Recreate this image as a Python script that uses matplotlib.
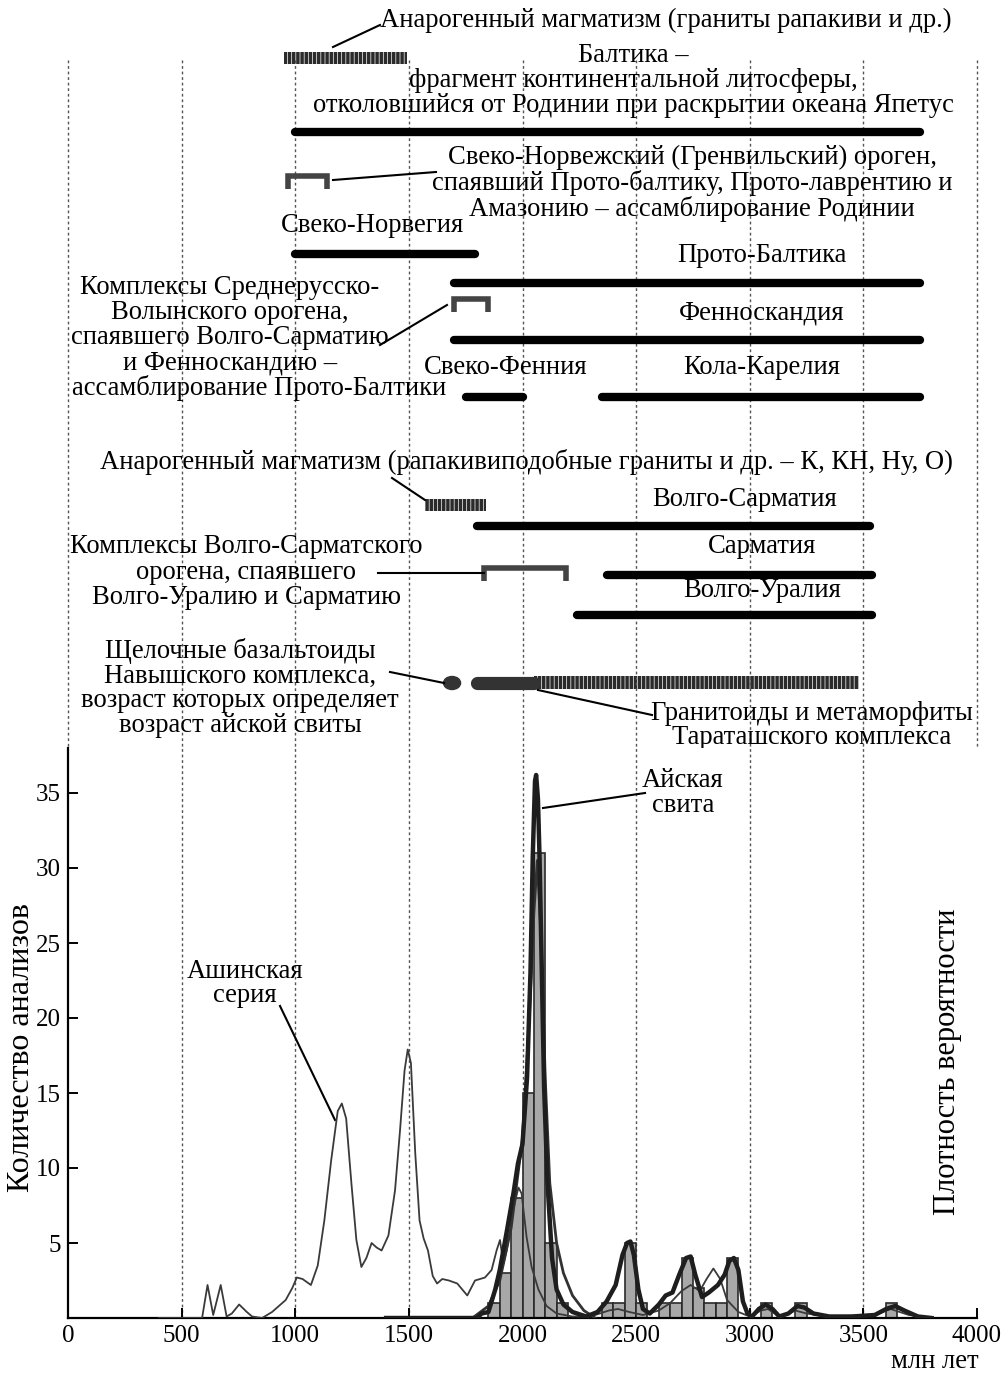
import matplotlib
matplotlib.use("Agg")
import matplotlib.pyplot as plt
from matplotlib.patches import Ellipse

plt.rcParams['font.family'] = ['Liberation Serif', 'DejaVu Serif']
plt.rcParams['hatch.color'] = '#2b2b2b'
plt.rcParams['hatch.linewidth'] = 2.5

# --- histogram of detrital zircon ages (Aiskaya svita), 50 Ma bins ---
BIN = 50
bin_left = [1850, 1900, 1950, 2000, 2050, 2100, 2150, 2350, 2400, 2450, 2500,
            2600, 2650, 2700, 2750, 2800, 2850, 2900, 3050, 3200, 3600]
bin_count = [1, 3, 8, 15, 31, 5, 1, 1, 1, 5, 1,
             1, 1, 4, 2, 1, 1, 4, 1, 1, 1]

# probability density curve, Ashinskaya series (thin line)
ash_age = [400, 590, 614, 639, 672, 698, 721, 753, 787, 810, 854, 898, 958, 987,
           1007, 1032, 1069, 1099, 1128, 1158, 1187, 1205, 1224, 1247, 1269, 1291,
           1313, 1336, 1358, 1380, 1410, 1439, 1461, 1481, 1495, 1509, 1528, 1547,
           1565, 1584, 1605, 1624, 1647, 1676, 1713, 1757, 1791, 1835, 1864, 1886,
           1901, 1916, 1930, 1959, 1982, 1996, 2018, 2040, 2070, 2106, 2150, 2220,
           2300, 2380, 2420, 2470, 2530, 2600, 2650, 2700, 2740, 2780, 2810, 2840,
           2870, 2900, 2950, 3000, 3050, 3080, 3120, 3160, 3200, 3250, 3350, 3550,
           3620, 3700, 3800]
ash_val = [0, 0, 2.2, 0.2, 2.2, 0.1, 0.3, 0.9, 0.4, 0.1, 0, 0.4, 1.2, 2.0,
           2.7, 2.6, 2.2, 3.5, 6.5, 10.5, 13.8, 14.3, 13.3, 9.0, 5.2, 3.4,
           4.0, 5.0, 4.7, 4.5, 5.5, 8.5, 12.5, 16.5, 17.9, 17.0, 11.0, 6.5,
           5.3, 4.5, 2.8, 2.3, 2.6, 2.5, 2.3, 1.5, 2.5, 2.7, 3.2, 4.5,
           5.2, 3.6, 4.5, 7.2, 8.7, 8.3, 5.4, 3.4, 1.9, 0.8, 0.3, 0.1,
           0.1, 0.5, 0.6, 0.4, 0.2, 0.5, 1.0, 1.8, 2.2, 1.8, 2.6, 3.3,
           2.6, 1.2, 0.4, 0.1, 0.5, 0.6, 0.2, 0.2, 0.5, 0.3, 0.1, 0.2,
           0.6, 0.2, 0]

# probability density curve, Aiskaya svita (thick line)
ai_age = [1400, 1800, 1820, 1850, 1880, 1900, 1930, 1960, 1980, 2000, 2020, 2035,
          2045, 2055, 2060, 2068, 2075, 2085, 2095, 2110, 2130, 2150, 2180, 2220,
          2280, 2330, 2370, 2410, 2440, 2460, 2475, 2490, 2510, 2530, 2560, 2600,
          2630, 2660, 2690, 2720, 2740, 2760, 2790, 2820, 2860, 2890, 2910, 2930,
          2950, 2970, 2990, 3010, 3040, 3070, 3100, 3130, 3170, 3210, 3240, 3280,
          3350, 3450, 3550, 3600, 3640, 3680, 3740, 3800]
ai_val = [0, 0, 0.3, 0.4, 1.9, 3.2, 5.7, 8.3, 10.3, 11.6, 16.0, 23.0,
          30.7, 35.8, 36.2, 34.6, 30.7, 23.0, 15.4, 9.0, 4.0, 1.9, 0.9, 0.4,
          0.1, 0.4, 1.1, 2.2, 4.2, 5.0, 5.1, 4.2, 1.9, 0.6, 0.3, 0.9,
          1.5, 1.7, 2.9, 4.0, 4.1, 2.9, 1.4, 1.7, 2.2, 2.9, 3.8, 4.0,
          3.2, 1.1, 0.3, 0.1, 0.6, 0.9, 0.6, 0.1, 0.3, 0.8, 0.7, 0.3,
          0.1, 0.1, 0.2, 0.6, 0.8, 0.5, 0.1, 0]

# smoother density curve, Aiskaya svita (medium line)
ai2_age = [1780, 1850, 1900, 1950, 2000, 2030, 2050, 2065, 2080, 2100, 2120,
           2150, 2180, 2220, 2270, 2320]
ai2_val = [0, 0.8, 2.5, 6.0, 12.0, 20.0, 27.0, 30.5, 26.0, 16.0, 9.0,
           5.0, 3.0, 1.5, 0.5, 0]

# --- tectonic units (Ma) ---
unit_start = [1000, 1000, 1700, 1700, 1750, 2350, 1800, 2370, 2240]
unit_end = [3750, 1790, 3750, 3750, 2000, 3750, 3530, 3540, 3540]
unit_row = [132, 254, 283, 340, 397, 397, 526, 575, 615]

# orogens (brackets)
orogen_start = [970, 1700, 1830]
orogen_end = [1140, 1850, 2190]
orogen_row = [176, 299, 568]

# anorogenic magmatism (hatched)
anor_start = [950, 1570]
anor_end = [1490, 1840]
anor_row = [58, 505]

# Taratash complex and Navysh basaltoids
taratash_solid = (1800, 2050)
taratash_hatched = (2050, 3480)
navysh_age = 1690

W_PX, H_PX = 1002, 1374
X0, X1 = 68, 977


def px(x):
    return (x - X0) / (X1 - X0) * 4000


fig = plt.figure(figsize=(W_PX / 100, H_PX / 100), dpi=100)
top = fig.add_axes([X0 / W_PX, 1 - 748 / H_PX, (X1 - X0) / W_PX, 748 / H_PX])
top.set_xlim(0, 4000)
top.set_ylim(748, 0)
top.axis('off')

ax = fig.add_axes([X0 / W_PX, (H_PX - 1318) / H_PX, (X1 - X0) / W_PX, 570 / H_PX])
ax.set_xlim(0, 4000)
ax.set_ylim(0, 38)

grid_kw = dict(color='#555555', lw=1.0, linestyle=(0, (2, 2)))
for t in range(0, 4001, 500):
    top.plot([t, t], [60, 748], clip_on=False, **grid_kw)
for t in range(500, 3501, 500):
    ax.axvline(t, zorder=0, **grid_kw)

DARK = '#1e1e1e'
FS = 19.2

# thick bars of tectonic units
for s, e, r in zip(unit_start, unit_end, unit_row):
    top.plot([s, e], [r, r], color='black', lw=6, solid_capstyle='round')

# brackets for orogens
for s, e, r in zip(orogen_start, orogen_end, orogen_row):
    top.plot([s, s, e, e], [r + 13, r, r, r + 13], color='#444444', lw=4,
             solid_joinstyle='miter', solid_capstyle='butt')

# hatched anorogenic magmatism
for s, e, r in zip(anor_start, anor_end, anor_row):
    top.barh(r, e - s, left=s, height=12, facecolor='white', edgecolor='#2b2b2b',
             hatch='||||', lw=0)

# Taratash complex
top.plot(list(taratash_solid), [683, 683], color='#333333', lw=9.5,
         solid_capstyle='round')
top.barh(683, taratash_hatched[1] - taratash_hatched[0], left=taratash_hatched[0],
         height=13, facecolor='white', edgecolor='#2b2b2b', hatch='||||', lw=0)
top.add_patch(Ellipse((navysh_age, 683), 75, 13, color='#333333'))


def lines(x, y0, txt, step=25.5, ha='center'):
    for i, t in enumerate(txt):
        top.text(px(x), y0 + i * step, t, fontsize=FS, ha=ha, va='center',
                 clip_on=False)


def leader(x0, y0, x1, y1):
    top.plot([px(x0), px(x1)], [y0, y1], color='black', lw=1.5, clip_on=False)


lines(666, 20, ['Анарогенный магматизм (граниты рапакиви и др.)'])
leader(333, 47, 380, 25)
lines(633, 55, ['Балтика –', 'фрагмент континентальной литосферы,',
                'отколовшийся от Родинии при раскрытии океана Япетус'])
lines(692, 157, ['Свеко-Норвежский (Гренвильский) ороген,',
                 'спаявший Прото-балтику, Прото-лаврентию и',
                 'Амазонию – ассамблирование Родинии'], step=26)
leader(333, 180, 436, 172)
lines(372, 226, ['Свеко-Норвегия'])
lines(762, 256, ['Прото-Балтика'])
lines(230, 287, ['Комплексы Среднерусско-', 'Волынского орогена,',
                 'спаявшего Волго-Сарматию', 'и Фенноскандию –'], step=25.3)
lines(259, 388, ['ассамблирование Прото-Балтики'])
leader(380, 345, 447, 305)
lines(762, 313, ['Фенноскандия'])
lines(506, 367, ['Свеко-Фенния'])
lines(762, 367, ['Кола-Карелия'])
lines(526, 462, ['Анарогенный магматизм (рапакивиподобные граниты и др. – К, КН, Ну, О)'])
leader(392, 478, 425, 500)
lines(745, 500, ['Волго-Сарматия'])
lines(246, 547, ['Комплексы Волго-Сарматского', 'орогена, спаявшего',
                 'Волго-Уралию и Сарматию'])
leader(378, 573, 484, 573)
lines(762, 547, ['Сарматия'])
lines(762, 591, ['Волго-Уралия'])
lines(240, 651, ['Щелочные базальтоиды', 'Навышского комплекса,',
                 'возраст которых определяет', 'возраст айской свиты'], step=25)
leader(390, 672, 444, 683)
lines(812, 714, ['Гранитоиды и метаморфиты', 'Тараташского комплекса'], step=24)
leader(538, 690, 652, 715)

# --- lower panel ---
ax.bar(bin_left, bin_count, width=BIN, align='edge', color='#a8a8a8',
       edgecolor='#2a2a2a', lw=1.2, zorder=2)
ax.plot(ash_age, ash_val, color='#3a3a3a', lw=1.3, zorder=3)
ax.plot(ai2_age, ai2_val, color='#333333', lw=2.0, zorder=3)
ax.plot(ai_age, ai_val, color=DARK, lw=3.2, zorder=4)

for side in ['top', 'right']:
    ax.spines[side].set_visible(False)
for side in ['left', 'bottom']:
    ax.spines[side].set_linewidth(1.6)
ax.set_yticks(range(5, 36, 5))
ax.set_xticks(range(0, 4001, 500))
ax.tick_params(axis='both', direction='in', length=7, width=1.4,
               labelsize=18, pad=5)

fig.text(22 / W_PX, 1 - 1048 / H_PX, 'Количество анализов', fontsize=23,
         rotation=90, ha='center', va='center')
fig.text(948 / W_PX, 1 - 1062 / H_PX, 'Плотность вероятности', fontsize=22,
         rotation=90, ha='center', va='center')

ax.text(px(245), 22.3, 'Ашинская\nсерия', fontsize=FS, ha='center', va='center',
        linespacing=0.95)
ax.plot([px(280), px(335)], [20.8, 13.2], color='black', lw=1.5)
ax.text(px(683), 35.0, 'Айская\nсвита', fontsize=FS, ha='center', va='center',
        linespacing=0.95)
ax.plot([px(543), px(645)], [34.0, 35.0], color='black', lw=1.5)

fig.text(935 / W_PX, 1 - 1362 / H_PX, 'млн лет', fontsize=FS, ha='center',
         va='center')

fig.savefig('out.png', dpi=100)
